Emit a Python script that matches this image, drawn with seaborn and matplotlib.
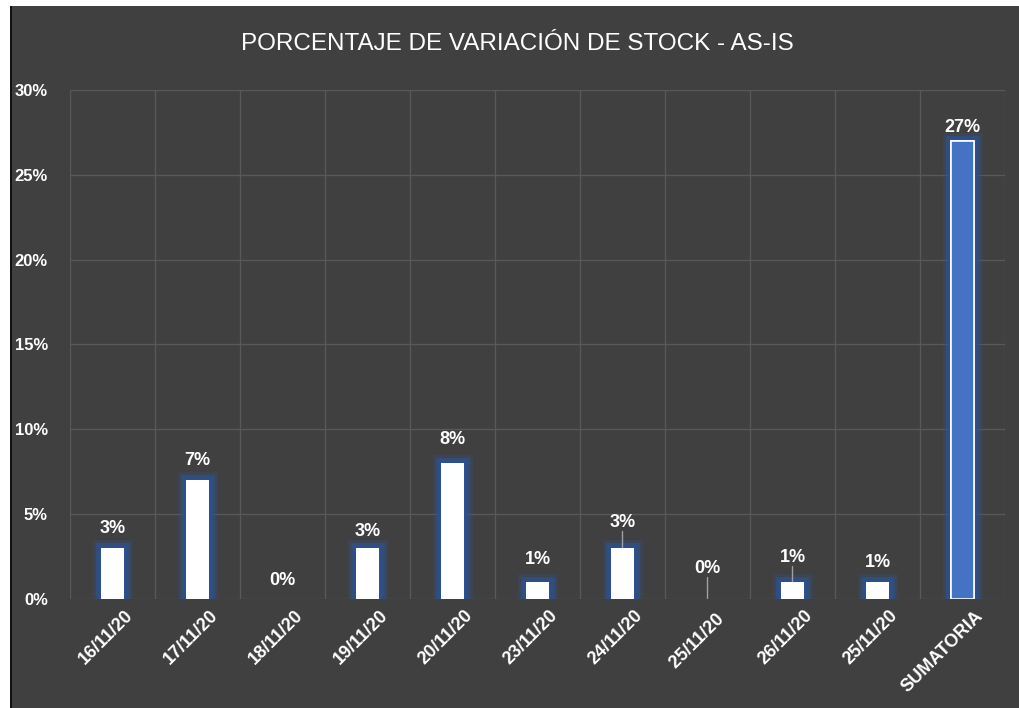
import matplotlib
matplotlib.use('Agg')
import matplotlib.pyplot as plt
import matplotlib.patheffects as pe
from matplotlib.patches import Rectangle
from matplotlib.transforms import ScaledTranslation
from matplotlib.ticker import MultipleLocator, FuncFormatter
import seaborn as sns
import pandas as pd

# datos
categorias = ['16/11/20', '17/11/20', '18/11/20', '19/11/20', '20/11/20', '23/11/20',
              '24/11/20', '25/11/20 ', '26/11/20', '25/11/20', 'SUMATORIA']
valores = [0.03, 0.07, 0.0, 0.03, 0.08, 0.01, 0.03, 0.0, 0.01, 0.01, 0.27]
etiquetas = ['3%', '7%', '0%', '3%', '8%', '1%', '3%', '0%', '1%', '1%', '27%']

df = pd.DataFrame({'fecha': categorias, 'valor': valores})

sns.set_style('dark')
plt.rcParams['font.family'] = ['Liberation Sans', 'DejaVu Sans']

fondo = '#404040'
fig = plt.figure(figsize=(10.2, 7.08), dpi=100)
fig.patch.set_facecolor('white')
fig.patches.append(Rectangle((10 / 1020, 0), 1 - 10 / 1020, 702 / 708, transform=fig.transFigure,
                             facecolor=fondo, edgecolor='none', zorder=-10))
fig.patches.append(Rectangle((10 / 1020, 0), 2 / 1020, 702 / 708, transform=fig.transFigure,
                             facecolor='#111111', edgecolor='none', zorder=-9))

ax = fig.add_axes([70 / 1020, 109 / 708, 935 / 1020, 509 / 708])
ax.set_facecolor(fondo)

colores = ['white'] * 10 + ['#4472c4']
sns.barplot(data=df, x='fecha', y='valor', hue='fecha', palette=colores, legend=False,
            width=0.26, saturation=1, ax=ax, zorder=3)

# brillo azul alrededor de las barras
brillo = [pe.withStroke(linewidth=12, foreground='#2f5597', alpha=0.25),
          pe.withStroke(linewidth=8, foreground='#2f5597', alpha=0.5),
          pe.withStroke(linewidth=4, foreground='#2b4f8f', alpha=0.9),
          pe.Normal()]
for i, p in enumerate(ax.patches):
    if valores[i] == 0:
        p.set_visible(False)
        continue
    if i == len(valores) - 1:
        p.set_edgecolor('white')
        p.set_linewidth(1.2)
    else:
        p.set_edgecolor('none')
    p.set_path_effects(brillo)

ax.set_ylim(0, 0.30)
ax.set_xlim(-0.5, len(categorias) - 0.5)
ax.yaxis.set_major_locator(MultipleLocator(0.05))
ax.yaxis.set_major_formatter(FuncFormatter(lambda v, _: f'{v:.0%}'))
ax.set_xticks(range(len(categorias)))
ax.set_xticks([i + 0.5 for i in range(-1, len(categorias))], minor=True)
ax.grid(False)
ax.grid(axis='y', which='major', color='#595959', linewidth=0.9, zorder=0)
ax.grid(axis='x', which='minor', color='#595959', linewidth=0.9, zorder=0)
for s in ax.spines.values():
    s.set_visible(False)
ax.tick_params(axis='both', which='both', length=0, colors='white')
ax.tick_params(axis='y', pad=16, labelsize=12)
ax.tick_params(axis='x', pad=6, labelsize=13)
ax.set_xlabel('')
ax.set_ylabel('')

desplaza = ScaledTranslation(12 / 100, 0, fig.dpi_scale_trans)
for lbl in ax.get_xticklabels():
    lbl.set_rotation(45)
    lbl.set_ha('right')
    lbl.set_rotation_mode('anchor')
    lbl.set_fontweight('bold')
    lbl.set_transform(lbl.get_transform() + desplaza)
for lbl in ax.get_yticklabels():
    lbl.set_fontweight('bold')

# etiquetas de datos (altura del texto)
altura_txt = [0.0365, 0.0766, 0.0059, 0.0348, 0.089, 0.0183, 0.040, 0.013, 0.0194, 0.0165, 0.273]
guia = [False, False, False, False, False, False, True, True, True, False, False]
for i, (v, t) in enumerate(zip(valores, etiquetas)):
    ax.text(i, altura_txt[i], t, ha='center', va='bottom', color='white',
            fontsize=13, fontweight='bold', zorder=5)
    if guia[i]:
        ax.plot([i, i], [v + 0.0005, altura_txt[i]], color='#a0a0a0', lw=1, zorder=4)

fig.text(0.507, 1 - 44 / 708, 'PORCENTAJE DE VARIACIÓN DE STOCK - AS-IS', ha='center', va='center',
         color='white', fontsize=17.5)

fig.savefig('out.png', dpi=100, facecolor=fig.get_facecolor())
